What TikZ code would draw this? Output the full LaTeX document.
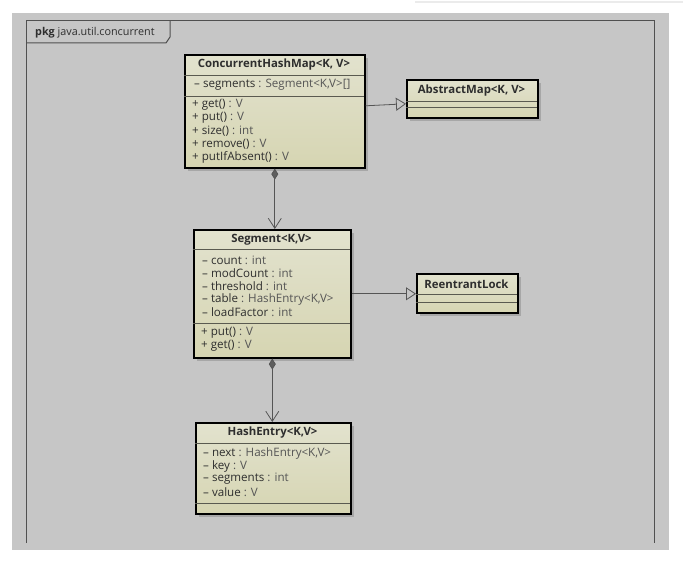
\documentclass[tikz,border=0pt]{standalone}
\usepackage{fontspec}
\setmainfont{Open Sans}
\usetikzlibrary{arrows.meta,calc,shadows}
\definecolor{bgc}{HTML}{C6C6C6}
\definecolor{framec}{HTML}{505050}
\definecolor{clstop}{HTML}{E2E2CE}
\definecolor{clsbot}{HTML}{D6D5B2}
\definecolor{divc}{HTML}{5A5A50}
\definecolor{txtdark}{HTML}{2E2E2E}
\definecolor{typec}{HTML}{555555}
\definecolor{linec}{HTML}{555555}
\definecolor{diamc}{HTML}{5E5E5E}
\definecolor{shadowc}{HTML}{9A9A9A}
\newcommand\mty[1]{\textcolor{typec}{#1}}
\begin{document}
\begin{tikzpicture}[x=1pt,y=1pt,
  cls/.style={draw=black, line width=1.6pt, anchor=north west, inner sep=0pt,
    top color=clstop, bottom color=clsbot,
    drop shadow={shadow xshift=3pt, shadow yshift=-3pt, fill=shadowc, opacity=0.7}},
  div/.style={draw=divc, line width=0.8pt},
  ttl/.style={font=\bfseries\fontsize{11.4}{13}\selectfont, text=txtdark, inner sep=0pt},
  mem/.style={font=\fontsize{11.6}{13}\selectfont, text=txtdark, anchor=west, inner sep=0pt},
  gen/.style={draw=linec, line width=0.8pt, -{Triangle[length=10pt, width=13pt, fill=bgc]}},
  comp/.style={draw=linec, line width=0.8pt,
    {Diamond[length=11pt, width=7pt, fill=diamc]}-{Straight Barb[length=10pt, width=13pt]}},
  framel/.style={draw=framec, line width=1pt}
]
\useasboundingbox (0,0) rectangle (683,-564);
% background
\fill[white] (0,0) rectangle (683,-564);
\draw[color=black!8, line width=2pt] (415,-2) -- (683,-2);
\fill[bgc] (12,-13) rectangle (669,-550);
% package frame
\draw[framel] (26,-543) -- (26,-21) -- (654,-21) -- (654,-543);
\draw[framel] (26,-43) -- (166,-43) -- (170,-37) -- (170,-21);
\node[anchor=west, inner sep=0pt, text=txtdark, font=\fontsize{10.8}{12}\selectfont] (pkg) at (35,-33) {\textbf{pkg} java.util.concurrent};

% ConcurrentHashMap
\node[cls, minimum width=180pt, minimum height=113pt] (chm) at (184,-54) {};
\draw[div] (184,-75) -- (364,-75);
\draw[div] (184,-96) -- (364,-96);
\node[ttl] (chmt) at (274,-65) {ConcurrentHashMap<K, V>};
\node[mem] (chma1) at (194,-85) {– segments \mty{: Segment<K,V>[]}};
\node[mem] (chmm1) at (192,-105) {+ get() \mty{: V}};
\node[mem] (chmm2) at (192,-118) {+ put() \mty{: V}};
\node[mem] (chmm3) at (192,-131) {+ size() \mty{: int}};
\node[mem] (chmm4) at (192,-144) {+ remove() \mty{: V}};
\node[mem] (chmm5) at (192,-157) {+ putIfAbsent() \mty{: V}};

% AbstractMap
\node[cls, minimum width=131pt, minimum height=38pt] (am) at (406,-79) {};
\draw[div] (406,-101) -- (537,-101);
\draw[div] (406,-107) -- (537,-107);
\node[ttl] (amt) at (471.5,-91) {AbstractMap<K, V>};

% Segment
\node[cls, minimum width=157pt, minimum height=128pt] (seg) at (193,-229) {};
\draw[div] (193,-249) -- (350,-249);
\draw[div] (193,-323) -- (350,-323);
\node[ttl] (segt) at (271.5,-240) {Segment<K,V>};
\node[mem] (sega1) at (202,-260) {– count \mty{: int}};
\node[mem] (sega2) at (202,-273) {– modCount \mty{: int}};
\node[mem] (sega3) at (202,-286) {– threshold \mty{: int}};
\node[mem] (sega4) at (202,-299) {– table \mty{: HashEntry<K,V>}};
\node[mem] (sega5) at (202,-312) {– loadFactor \mty{: int}};
\node[mem] (segm1) at (201,-333) {+ put() \mty{: V}};
\node[mem] (segm2) at (201,-346) {+ get() \mty{: V}};

% ReentrantLock
\node[cls, minimum width=101pt, minimum height=39pt] (rl) at (416,-273) {};
\draw[div] (416,-294) -- (517,-294);
\draw[div] (416,-302) -- (517,-302);
\node[ttl] (rlt) at (466.5,-284) {ReentrantLock};

% HashEntry
\node[cls, minimum width=155pt, minimum height=91pt] (he) at (195,-422) {};
\draw[div] (195,-443) -- (350,-443);
\draw[div] (195,-503) -- (350,-503);
\node[ttl] (het) at (272.5,-433) {HashEntry<K,V>};
\node[mem] (hea1) at (203,-453) {– next \mty{: HashEntry<K,V>}};
\node[mem] (hea2) at (203,-466) {– key \mty{: V}};
\node[mem] (hea3) at (203,-479) {– segments \mty{: int}};
\node[mem] (hea4) at (203,-492) {– value \mty{: V}};

% connectors
\draw[gen] ([yshift=5.5pt]chm.east) -- ([yshift=-5pt]am.west);
\draw[gen] (seg.east) -- (seg.east -| rl.west);
\draw[comp] (chm.south) -- (chm.south |- seg.north);
\draw[comp] (seg.south) -- (seg.south |- he.north);
\end{tikzpicture}
\end{document}
